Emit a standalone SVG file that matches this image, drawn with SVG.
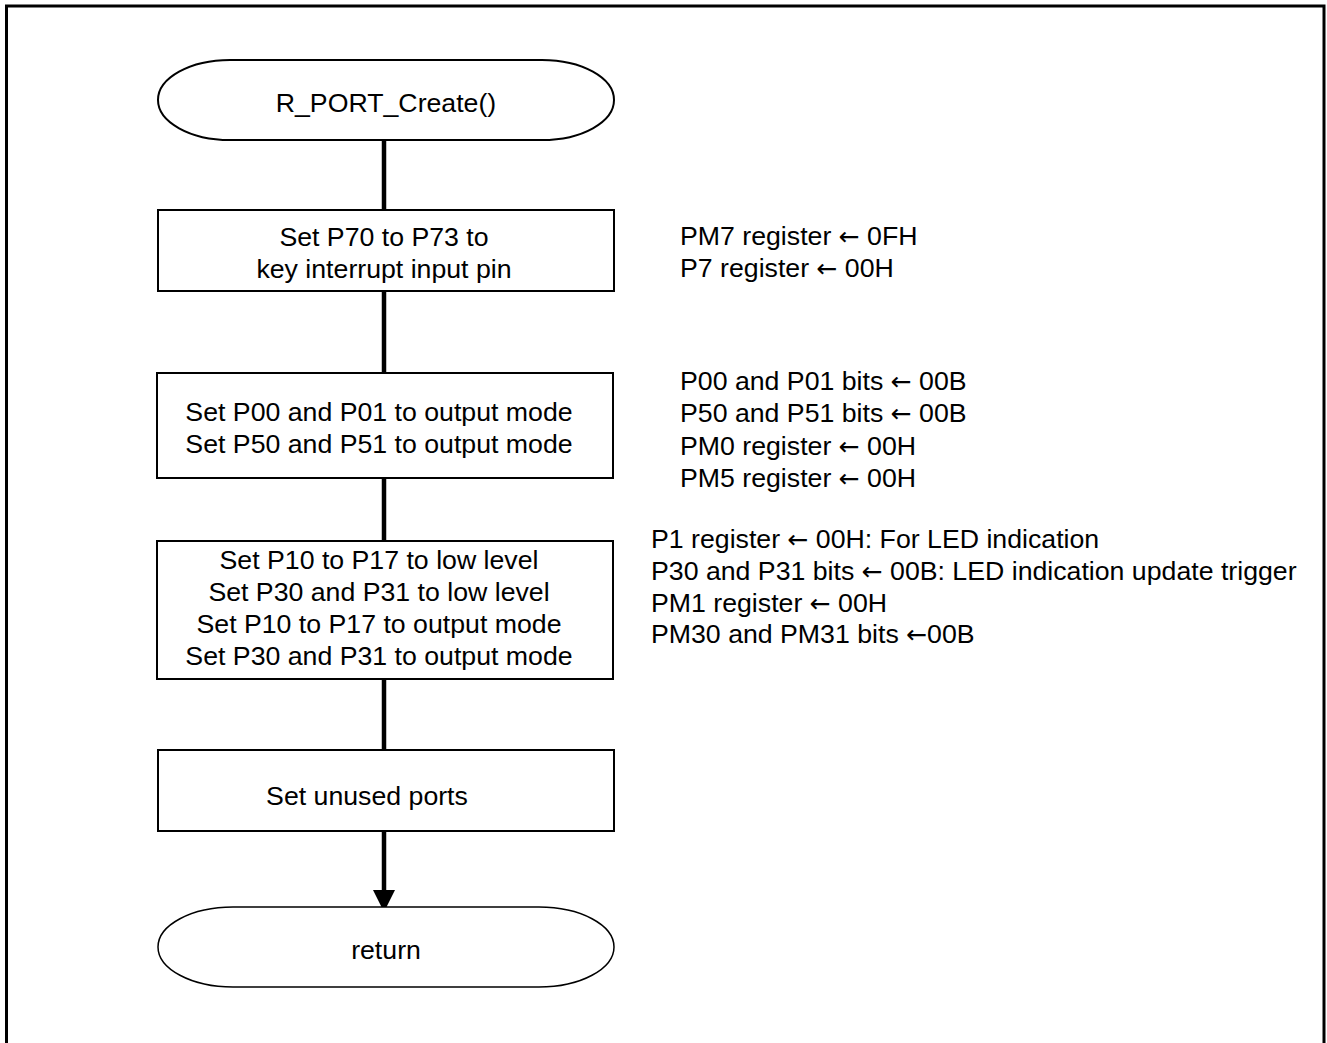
<svg xmlns="http://www.w3.org/2000/svg" width="1327" height="1043" viewBox="0 0 1327 1043">
<defs>
<style>
text{font-family:"Liberation Sans",Arial,sans-serif;font-size:26.7px;fill:#000}
.c{text-anchor:middle}
.a{font-family:"DejaVu Sans",sans-serif;font-size:25px}
.box{fill:#fff;stroke:#000;stroke-width:2}
.term{fill:#fff;stroke:#000;stroke-width:2}
.conn{stroke:#000;stroke-width:4.5;fill:none}
</style>
<marker id="arr" markerUnits="userSpaceOnUse" markerWidth="24" markerHeight="24" viewBox="0 0 24 24" refX="22" refY="12" orient="auto">
<path d="M0,1 L22,12 L0,23 Z" fill="#000"/>
</marker>
</defs>
<rect x="6.5" y="6" width="1317.5" height="1060" fill="#fff" stroke="#000" stroke-width="3"/>
<g id="connectors">
<line class="conn" x1="384" y1="140" x2="384" y2="210"/>
<line class="conn" x1="384" y1="291" x2="384" y2="373"/>
<line class="conn" x1="384" y1="478" x2="384" y2="541"/>
<line class="conn" x1="384" y1="679" x2="384" y2="750"/>
<line class="conn" x1="384" y1="831" x2="384" y2="912" marker-end="url(#arr)"/>
</g>
<g id="start">
<path class="term" d="M230,60 L542,60 A72,40 0 0 1 542,140 L230,140 A72,40 0 0 1 230,60 Z"/>
<text class="c" x="386" y="112">R_PORT_Create()</text>
</g>
<g id="box1">
<rect class="box" x="158" y="210" width="456" height="81"/>
<text class="c" x="384" y="246">Set P70 to P73 to</text>
<text class="c" x="384" y="278">key interrupt input pin</text>
</g>
<g id="box2">
<rect class="box" x="157" y="373" width="456" height="105"/>
<text class="c" x="379" y="421">Set P00 and P01 to output mode</text>
<text class="c" x="379" y="453">Set P50 and P51 to output mode</text>
</g>
<g id="box3">
<rect class="box" x="157" y="541" width="456" height="138"/>
<text class="c" x="379" y="569">Set P10 to P17 to low level</text>
<text class="c" x="379" y="601">Set P30 and P31 to low level</text>
<text class="c" x="379" y="633">Set P10 to P17 to output mode</text>
<text class="c" x="379" y="665">Set P30 and P31 to output mode</text>
</g>
<g id="box4">
<rect class="box" x="158" y="750" width="456" height="81"/>
<text class="c" x="367" y="805">Set unused ports</text>
</g>
<g id="end">
<path class="term" style="stroke-width:1.5" d="M233,907 L539,907 A75,40 0 0 1 539,987 L233,987 A75,40 0 0 1 233,907 Z"/>
<text class="c" x="386" y="959">return</text>
</g>
<g id="notes">
<text x="680" y="245">PM7 register <tspan class="a">←</tspan> 0FH</text>
<text x="680" y="277">P7 register <tspan class="a">←</tspan> 00H</text>
<text x="680" y="390">P00 and P01 bits <tspan class="a">←</tspan> 00B</text>
<text x="680" y="422">P50 and P51 bits <tspan class="a">←</tspan> 00B</text>
<text x="680" y="455">PM0 register <tspan class="a">←</tspan> 00H</text>
<text x="680" y="487">PM5 register <tspan class="a">←</tspan> 00H</text>
<text x="651" y="548">P1 register <tspan class="a">←</tspan> 00H: For LED indication</text>
<text x="651" y="580">P30 and P31 bits <tspan class="a">←</tspan> 00B: LED indication update trigger</text>
<text x="651" y="612">PM1 register <tspan class="a">←</tspan> 00H</text>
<text x="651" y="643">PM30 and PM31 bits <tspan class="a">←</tspan>00B</text>
</g>
</svg>
